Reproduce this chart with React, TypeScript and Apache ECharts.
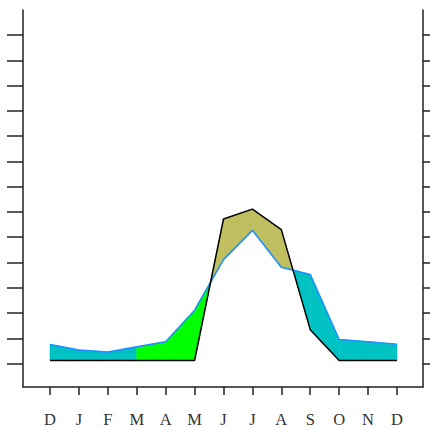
import React, { useEffect, useRef } from "react";
import * as echarts from "echarts";

const months = ["D", "J", "F", "M", "A", "M", "J", "J", "A", "S", "O", "N", "D"];
const precipitation = [7.5, 5.3, 4.5, 6.6, 8.6, 21.1, 41.1, 52.7, 38.1, 35.2, 9.5, 8.6, 7.6];
const evaporation = [1.2, 1.2, 1.2, 1.2, 1.2, 1.2, 57.2, 61.1, 53.0, 13.4, 1.2, 1.2, 1.2];
const yTicks = [0, 10, 20, 30, 40, 50, 60, 70, 80, 90, 100, 110, 120, 130];
const xTicks = [0, 1, 2, 3, 4, 5, 6, 7, 8, 9, 10, 11, 12];
const rechargeIntervals = [3, 4, 5];

const COLORS = {
  surplus: "#00C2C2",
  recharge: "#00FF00",
  deficit: "#BFBF5F",
  precip: "#1E90FF",
  evap: "#000000",
  axis: "#222222",
};

export default function App() {
  const ref = useRef<HTMLDivElement>(null);

  useEffect(() => {
    if (!ref.current) return;
    const chart = echarts.init(ref.current, null, { renderer: "svg" });

    const renderItem = (params: any, api: any) => {
      const pts = months.map((_, i) => ({
        b: api.coord([i, precipitation[i]]),
        k: api.coord([i, evaporation[i]]),
      }));
      const children: any[] = [];
      const colorFor = (i: number, d: number) =>
        d > 0 ? COLORS.deficit : rechargeIntervals.includes(i) ? COLORS.recharge : COLORS.surplus;
      const poly = (points: number[][], color: string) => ({
        type: "polygon",
        shape: { points },
        style: { fill: color, stroke: color, lineWidth: 0.6 },
      });
      for (let i = 0; i < months.length - 1; i++) {
        const p0 = pts[i];
        const p1 = pts[i + 1];
        const d0 = evaporation[i] - precipitation[i];
        const d1 = evaporation[i + 1] - precipitation[i + 1];
        if (d0 * d1 < 0) {
          const t = d0 / (d0 - d1);
          const cx = p0.b[0] + (p1.b[0] - p0.b[0]) * t;
          const cy = p0.b[1] + (p1.b[1] - p0.b[1]) * t;
          children.push(poly([p0.b, [cx, cy], p0.k], colorFor(i, d0)));
          children.push(poly([[cx, cy], p1.b, p1.k], colorFor(i, d1)));
        } else {
          children.push(poly([p0.b, p1.b, p1.k, p0.k], colorFor(i, d0 + d1)));
        }
      }
      return { type: "group", children };
    };

    const yMin = -9.29;
    const yMax = 139.9;

    chart.setOption({
      animation: false,
      grid: { left: 23, right: 7, top: 10, bottom: 40.5, containLabel: false },
      xAxis: {
        type: "value",
        min: -0.934,
        max: 12.9,
        splitLine: { show: false },
        axisLine: { show: true, onZero: false, lineStyle: { color: COLORS.axis, width: 1.5 } },
        axisTick: {
          show: true,
          inside: false,
          length: 8,
          customValues: xTicks,
          lineStyle: { color: COLORS.axis, width: 1.5 },
        },
        axisLabel: {
          show: true,
          customValues: xTicks,
          margin: 24,
          formatter: (v: number) => months[Math.round(v)] ?? "",
          fontFamily: "Liberation Serif",
          fontSize: 16.5,
          color: "#333",
        },
      },
      yAxis: [
        {
          type: "value",
          position: "left",
          min: yMin,
          max: yMax,
          splitLine: { show: false },
          axisLine: { show: true, onZero: false, lineStyle: { color: COLORS.axis, width: 1.5 } },
          axisTick: {
            show: true,
            inside: false,
            length: 16,
            customValues: yTicks,
            lineStyle: { color: COLORS.axis, width: 1.5 },
          },
          axisLabel: { show: false },
        },
        {
          type: "value",
          position: "right",
          min: yMin,
          max: yMax,
          splitLine: { show: false },
          axisLine: { show: true, onZero: false, lineStyle: { color: COLORS.axis, width: 1.5 } },
          axisTick: {
            show: true,
            inside: false,
            length: 16,
            customValues: yTicks,
            lineStyle: { color: COLORS.axis, width: 1.5 },
          },
          axisLabel: { show: false },
        },
      ],
      series: [
        {
          type: "custom",
          renderItem,
          data: [[0, 0]],
          xAxisIndex: 0,
          yAxisIndex: 0,
          silent: true,
          z: 1,
        },
        {
          type: "line",
          data: precipitation.map((v, i) => [i, v]),
          showSymbol: false,
          symbol: "none",
          lineStyle: { color: COLORS.precip, width: 1.6 },
          z: 3,
        },
        {
          type: "line",
          data: evaporation.map((v, i) => [i, v]),
          showSymbol: false,
          symbol: "none",
          lineStyle: { color: COLORS.evap, width: 1.5 },
          z: 4,
        },
      ],
    });

    return () => chart.dispose();
  }, []);

  return (
    <div
      ref={ref}
      style={{ position: "fixed", left: 0, top: 0, width: 430, height: 428, background: "#fff" }}
    />
  );
}
